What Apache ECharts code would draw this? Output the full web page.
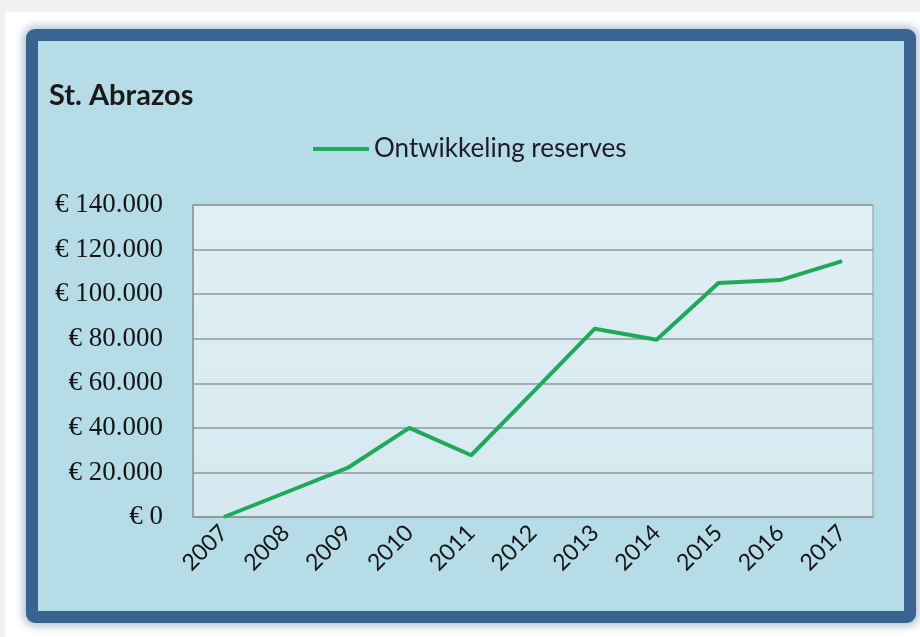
<!DOCTYPE html>
<html>
<head>
<meta charset="utf-8">
<script src="https://cdn.jsdelivr.net/npm/echarts@6/dist/echarts.min.js"></script>
<style>
html,body{margin:0;padding:0;width:920px;height:637px;background:#f1f1f1;overflow:hidden;}
#paper{position:absolute;left:5px;top:12px;width:915px;height:625px;background:#ffffff;}
#frame{position:absolute;left:26px;top:29px;width:866px;height:570px;border:12px solid #3b6391;border-radius:9px;background:#b6dce7;box-shadow:0 0 9px 3px rgba(59,99,145,0.4);}
#chart{position:absolute;left:0;top:0;width:920px;height:637px;}
</style>
</head>
<body>
<div id="paper"></div>
<div id="frame"></div>
<div id="chart"></div>
<script>
const chartTitle = 'St. Abrazos';
const seriesName = 'Ontwikkeling reserves';
const years = ['2007','2008','2009','2010','2011','2012','2013','2014','2015','2016','2017'];
const reserves = [0, 11000, 22000, 40000, 27700, 56000, 84500, 79500, 105000, 106300, 114800];
const yTicks = [0, 20000, 40000, 60000, 80000, 100000, 120000, 140000];

function euro(v){
  return '€ ' + String(v).replace(/\B(?=(\d{3})+(?!\d))/g, '.');
}

const chart = echarts.init(document.getElementById('chart'), null, {renderer:'canvas'});
chart.setOption({
  backgroundColor: 'transparent',
  animation: false,
  title: {
    text: chartTitle,
    left: 44, top: 76,
    textStyle: {fontFamily: 'Lato', fontWeight: 'bold', fontSize: 29, color: '#1a1a1a'}
  },
  legend: {
    data: [seriesName],
    left: 308, top: 131,
    itemWidth: 56, itemHeight: 4, itemGap: 5,
    icon: 'rect',
    textStyle: {fontFamily: 'Lato', fontSize: 26, color: '#1c1c28'}
  },
  grid: {
    left: 193, right: 47, top: 205, bottom: 120,
    show: true,
    backgroundColor: new echarts.graphic.LinearGradient(0,0,0,1,[{offset:0,color:'#e0eff4'},{offset:1,color:'#d6e9f0'}]),
    borderColor: '#8e989c', borderWidth: 1
  },
  xAxis: {
    type: 'category',
    data: years,
    boundaryGap: true,
    axisLine: {show: true, lineStyle: {color: '#8e989c', width: 1.5}},
    axisTick: {show: false},
    axisLabel: {rotate: 45, margin: 12, fontFamily: 'Lato', fontSize: 23, color: '#151515', interval: 0}
  },
  yAxis: {
    type: 'value',
    min: yTicks[0], max: yTicks[yTicks.length-1], interval: yTicks[1]-yTicks[0],
    axisLine: {show: true, lineStyle: {color: '#8e989c', width: 1.5}},
    axisTick: {show: false},
    splitLine: {show: true, lineStyle: {color: '#8e989c', width: 1.5}},
    axisLabel: {formatter: euro, margin: 30, fontFamily: 'Liberation Serif', fontSize: 27, color: '#151515'}
  },
  series: [{
    name: seriesName,
    type: 'line',
    data: reserves,
    symbol: 'none',
    lineStyle: {color: '#1fa95a', width: 4},
    itemStyle: {color: '#1fa95a'}
  }]
});
</script>
</body>
</html>
